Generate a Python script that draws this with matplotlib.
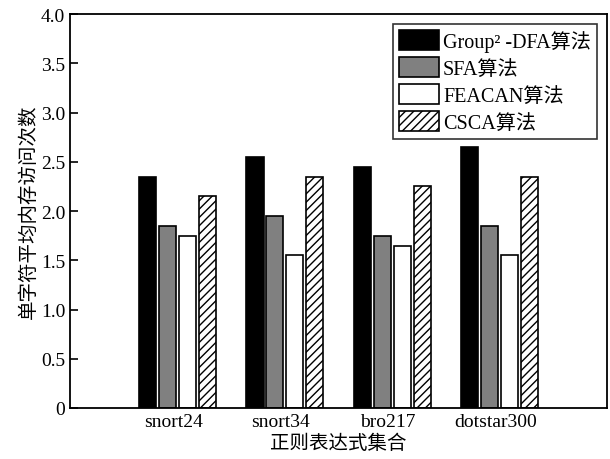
import numpy as np
import matplotlib.pyplot as plt

plt.rcParams['font.family'] = ['Liberation Serif', 'Noto Sans CJK SC']
plt.rcParams['hatch.linewidth'] = 1.0

# data
sets = ["snort24", "snort34", "bro217", "dotstar300"]
group2_dfa = [2.35, 2.55, 2.45, 2.65]
sfa = [1.85, 1.95, 1.75, 1.85]
feacan = [1.75, 1.55, 1.65, 1.55]
csca = [2.15, 2.35, 2.25, 2.35]
yticks = [0, 0.5, 1.0, 1.5, 2.0, 2.5, 3.0, 3.5, 4.0]
ytick_labels = ["0", "0.5", "1.0", "1.5", "2.0", "2.5", "3.0", "3.5", "4.0"]

fig = plt.figure(figsize=(6.1, 4.6), dpi=100)
ax = fig.add_axes([0.115, 0.111, 0.88, 0.856])

x = np.arange(1, len(sets) + 1)
w = 0.16
step = 0.186
ax.bar(x - 1.5*step, group2_dfa, w, color="black", edgecolor="black", linewidth=1.2,
       label="Group² -DFA算法")
ax.bar(x - 0.5*step, sfa, w, color="#808080", edgecolor="black", linewidth=1.2, label="SFA算法")
ax.bar(x + 0.5*step, feacan, w, color="white", edgecolor="black", linewidth=1.2, label="FEACAN算法")
ax.bar(x + 1.5*step, csca, w, color="white", edgecolor="black", linewidth=1.2, hatch="////",
       label="CSCA算法")

ax.set_xlim(0, 5)
ax.set_ylim(0, 4.0)
ax.set_xticks(x - 0.04)
ax.set_xticklabels(sets, fontsize=14)
ax.set_yticks(yticks)
ax.set_yticklabels(ytick_labels, fontsize=14)
ax.tick_params(axis="x", length=0, pad=4)
ax.tick_params(axis="y", direction="in", length=6, width=1.2)
for s in ax.spines.values():
    s.set_linewidth(1.3)

ax.set_ylabel("单字符平均内存访问次数", fontsize=14, labelpad=2)
ax.set_xlabel("正则表达式集合", fontsize=14, labelpad=2)

leg = ax.legend(loc="upper right", fontsize=14.5, frameon=True, fancybox=False,
                edgecolor="black", handlelength=2.0, handleheight=1.15,
                labelspacing=0.25, handletextpad=0.2, borderpad=0.3,
                borderaxespad=0.5)
leg.get_frame().set_linewidth(1.2)

plt.savefig("out.png", dpi=100)
